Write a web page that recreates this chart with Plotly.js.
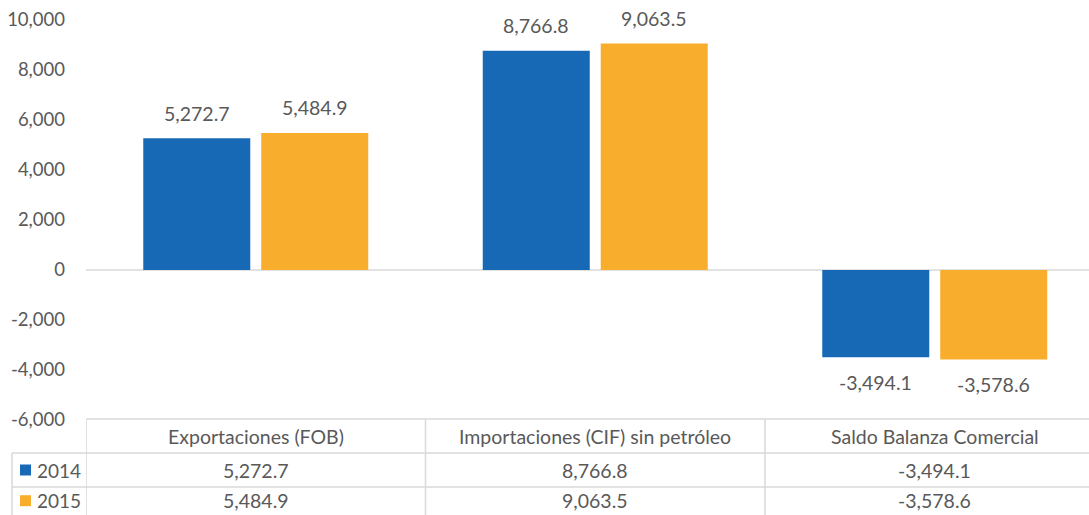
<!DOCTYPE html>
<html>
<head>
<meta charset="utf-8">
<script src="https://cdn.plot.ly/plotly-3.0.1.min.js"></script>
<style>html,body{margin:0;padding:0;background:#fff;}#chart{width:1089px;height:515px;}</style>
</head>
<body>
<div id="chart"></div>
<script>
var categories = ["Exportaciones (FOB)", "Importaciones (CIF) sin petróleo", "Saldo Balanza Comercial"];
var seriesNames = ["2014", "2015"];
var values2014 = [5272.7, 8766.8, -3494.1];
var values2015 = [5484.9, 9063.5, -3578.6];
var tickValues = [-6000, -4000, -2000, 0, 2000, 4000, 6000, 8000, 10000];
var tickLabels = ["-6,000", "-4,000", "-2,000", "0", "2,000", "4,000", "6,000", "8,000", "10,000"];

var colors = ["#1769B5", "#F8AE2C"];
var FONT = "Lato, 'Open Sans', sans-serif";
var GRAY = "#595959";
var LINE = "#D9D9D9";

function fmt(v) {
  var s = Math.abs(v).toFixed(1);
  var parts = s.split(".");
  parts[0] = parts[0].replace(/\B(?=(\d{3})+(?!\d))/g, ",");
  return (v < 0 ? "-" : "") + parts.join(".");
}

var series = [values2014, values2015];
var xIdx = categories.map(function(c, i){ return i; });
var traces = series.map(function(vals, s){
  return {
    type: "bar", x: xIdx, y: vals, name: seriesNames[s],
    marker: {color: colors[s]}, hoverinfo: "skip", cliponaxis: false
  };
});

// plot area geometry (pixels); chart area is cropped on the right like the reference
var mL = 86, mR = 0, mT = 20, mB = 95, W = 1089, H = 515;
var plotH = H - mT - mB, plotW = W - mL - mR;
var xMax = -0.5 + plotW / 339.5;
function py(pix){ return (H - mB - pix) / plotH; }   // pixel y -> paper y
function px(pix){ return (pix - mL) / plotW; }        // pixel x -> paper x
var rowTop = py(419), row1 = py(453), row2 = py(487), rowBot = py(516);
var legX0 = px(12);

var shapes = [];
var annotations = [];
// zero line
shapes.push({type:"line", xref:"paper", yref:"y", x0:0, x1:1, y0:0, y1:0, line:{color:LINE, width:1.5}, layer:"below"});
// table horizontal lines
shapes.push({type:"line", xref:"paper", yref:"paper", x0:0, x1:1, y0:rowTop, y1:rowTop, line:{color:LINE, width:1.5}});
[row1, row2].forEach(function(yy){
  shapes.push({type:"line", xref:"paper", yref:"paper", x0:legX0, x1:1, y0:yy, y1:yy, line:{color:LINE, width:1.5}});
});
// vertical lines
shapes.push({type:"line", xref:"paper", yref:"paper", x0:legX0, x1:legX0, y0:row1, y1:rowBot, line:{color:LINE, width:1.5}});
for (var i = 0; i < categories.length; i++) {
  shapes.push({type:"line", xref:"x", yref:"paper", x0:i-0.5, x1:i-0.5, y0:rowTop, y1:rowBot, line:{color:LINE, width:1.5}});
}
// header text
categories.forEach(function(c, i){
  annotations.push({xref:"x", yref:"paper", x:i, y:(rowTop+row1)/2, text:c, showarrow:false,
    font:{family:FONT, size:19.5, color:GRAY}, xanchor:"center", yanchor:"middle"});
});
// rows
var rowsY = [(row1+row2)/2, (row2+rowBot)/2 + 0.002];
series.forEach(function(vals, s){
  var cy = rowsY[s];
  var half = 5.5 / plotH;
  shapes.push({type:"rect", xref:"paper", yref:"paper", x0:px(20), x1:px(31), y0:cy-half, y1:cy+half,
    fillcolor:colors[s], line:{width:0}});
  annotations.push({xref:"paper", yref:"paper", x:px(35), y:cy, text:seriesNames[s], showarrow:false,
    font:{family:FONT, size:19, color:GRAY}, xanchor:"left", yanchor:"middle"});
  vals.forEach(function(v, i){
    annotations.push({xref:"x", yref:"paper", x:i, y:cy, text:fmt(v), showarrow:false,
      font:{family:FONT, size:19.5, color:GRAY}, xanchor:"center", yanchor:"middle"});
    // data labels on bars
    annotations.push({xref:"x", yref:"y", x:i, y:v, text:fmt(v), showarrow:false,
      xshift:(s === 0 ? -59 : 59), yshift:(v >= 0 ? 25 : -25),
      font:{family:FONT, size:19.5, color:GRAY}, xanchor:"center", yanchor:"middle"});
  });
});

var layout = {
  width: W, height: H,
  margin: {l: mL, r: mR, t: mT, b: mB, pad: 0},
  paper_bgcolor: "#ffffff", plot_bgcolor: "#ffffff",
  barmode: "group", bargap: 0.305, bargroupgap: 0.093,
  showlegend: false,
  xaxis: {range: [-0.5, xMax], showticklabels: false, showgrid: false, zeroline: false, showline: false, ticks: "", fixedrange: true},
  yaxis: {range: [-6000, 10000], tickvals: tickValues, ticktext: tickLabels, showgrid: false, zeroline: false,
    showline: false, ticks: "", ticklabelstandoff: 20, tickfont: {family: FONT, size: 18.5, color: GRAY}, fixedrange: true},
  shapes: shapes,
  annotations: annotations,
  font: {family: FONT, color: GRAY}
};

Plotly.newPlot("chart", traces, layout, {displayModeBar: false, staticPlot: true});
</script>
</body>
</html>
